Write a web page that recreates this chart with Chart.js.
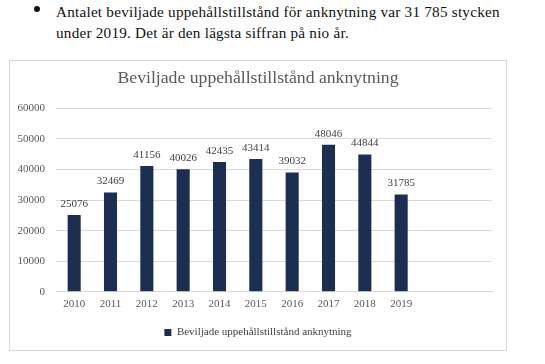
<!DOCTYPE html>
<html>
<head>
<meta charset="utf-8">
<script src="https://cdn.jsdelivr.net/npm/chart.js@4"></script>
<style>
  body { margin: 0; background: #fff; width: 545px; height: 364px; position: relative; overflow: hidden; font-family: 'Liberation Serif', 'Times New Roman', serif; }
  .bullet { position: absolute; left: 0; top: 0; font-size: 15.2px; letter-spacing: 0.23px; line-height: 21px; color: #111; }
  .bullet .dot { position: absolute; left: 34px; top: 6px; width: 6px; height: 6px; border-radius: 50%; background: #111; }
  .bullet .txt { position: absolute; left: 56px; top: 1px; width: 480px; white-space: nowrap; }
  #box { position: absolute; left: 9px; top: 60px; width: 496px; height: 289px; border: 1px solid #d9d9d9; }
</style>
</head>
<body>
<div class="bullet">
  <div class="dot"></div>
  <div class="txt">Antalet beviljade uppehållstillstånd för anknytning var 31 785 stycken<br>under 2019. Det är den lägsta siffran på nio år.</div>
</div>
<div id="box"><canvas id="chart" width="496" height="289"></canvas></div>
<script>
const years = ["2010", "2011", "2012", "2013", "2014", "2015", "2016", "2017", "2018", "2019", "", ""];
const permits = [25076, 32469, 41156, 40026, 42435, 43414, 39032, 48046, 44844, 31785, null, null];
const seriesName = "Beviljade uppehållstillstånd anknytning";
const titleText = "Beviljade uppehållstillstånd anknytning";

const serif = "'Liberation Serif', serif";

// draws the value over each bar
const valueLabels = {
  id: "valueLabels",
  afterDatasetsDraw(chart) {
    const ctx = chart.ctx;
    const meta = chart.getDatasetMeta(0);
    ctx.save();
    ctx.font = "11px " + serif;
    ctx.fillStyle = "#404040";
    ctx.textAlign = "center";
    ctx.textBaseline = "middle";
    meta.data.forEach((bar, i) => {
      if (permits[i] == null) return;
      ctx.fillText(String(permits[i]), bar.x, bar.y - 11);
    });
    ctx.restore();
  }
};

new Chart(document.getElementById("chart"), {
  type: "bar",
  data: {
    labels: years,
    datasets: [{
      label: seriesName,
      data: permits,
      backgroundColor: "#1c2f50",
      categoryPercentage: 1,
      barPercentage: 0.36
    }]
  },
  options: {
    responsive: false,
    animation: false,
    layout: { padding: { left: 0, right: 0, top: 0, bottom: 2 } },
    plugins: {
      title: {
        display: true,
        text: titleText,
        color: "#595959",
        font: { family: serif, size: 17.7, weight: "normal" },
        padding: { top: 7, bottom: 19 }
      },
      legend: {
        position: "bottom",
        labels: {
          color: "#404040",
          font: { family: serif, size: 11 },
          boxWidth: 7,
          boxHeight: 7,
          padding: 10
        }
      },
      tooltip: { enabled: false }
    },
    scales: {
      x: {
        grid: { display: false, drawTicks: false },
        border: { color: "#d9d9d9" },
        ticks: { color: "#595959", font: { family: serif, size: 11 }, padding: 6, maxRotation: 0, autoSkip: false }
      },
      y: {
        min: 0,
        max: 60000,
        afterFit(scale) { scale.width = 46; },
        grid: { color: "#d9d9d9", drawTicks: false },
        border: { display: false },
        ticks: {
          stepSize: 10000,
          color: "#595959",
          font: { family: serif, size: 11 },
          padding: 11,
          callback: (v) => String(v)
        }
      },
      // empty right axis, only keeps the plot clear of the right edge
      yRight: {
        position: "right",
        min: 0,
        max: 60000,
        afterFit(scale) { scale.width = 14; },
        grid: { display: false, drawTicks: false },
        border: { display: false },
        ticks: { display: false }
      }
    }
  },
  plugins: [valueLabels]
});
</script>
</body>
</html>
